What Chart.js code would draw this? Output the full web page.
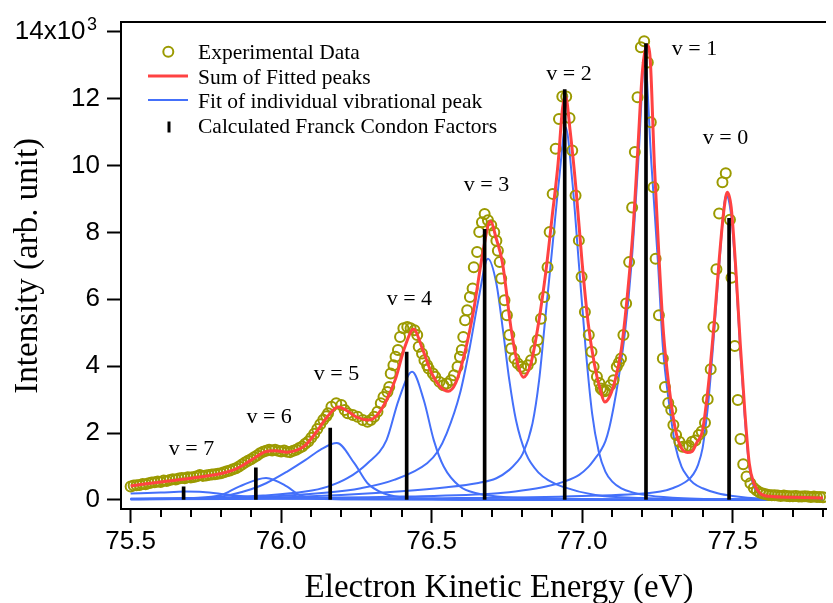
<!DOCTYPE html>
<html>
<head>
<meta charset="utf-8">
<script src="https://cdn.jsdelivr.net/npm/chart.js@4.4.0/dist/chart.umd.min.js"></script>
<style>
html,body{margin:0;padding:0;background:#fff;overflow:hidden;}
#wrap{width:833px;height:603px;position:relative;}
canvas{display:block;}
</style>
</head>
<body>
<div id="wrap"><canvas id="c" width="833" height="603"></canvas></div>
<script>
// ---------------- DATA (intensity in units of 10^3) ----------------
const expEnergy = [
75.50,75.51,75.52,75.53,75.54,75.55,75.56,75.57,75.58,75.59,
75.60,75.61,75.62,75.63,75.64,75.65,75.66,75.67,75.68,75.69,
75.70,75.71,75.72,75.73,75.74,75.75,75.76,75.77,75.78,75.79,
75.80,75.81,75.82,75.83,75.84,75.85,75.86,75.87,75.88,75.89,
75.90,75.91,75.92,75.93,75.94,75.95,75.96,75.97,75.98,75.99,
76.00,76.01,76.02,76.03,76.04,76.05,76.06,76.07,76.08,76.09,
76.10,76.11,76.12,76.13,76.14,76.15,
76.156,76.167,76.183,76.200,76.211,76.221,76.238,76.254,76.271,76.287,
76.298,76.309,76.320,76.331,76.340,76.353,76.359,76.364,76.373,76.380,
76.388,76.395,76.406,76.419,76.430,76.443,76.452,76.457,76.468,76.476,
76.485,76.490,76.504,76.512,76.526,76.539,76.550,76.564,76.574,76.586,
76.594,76.600,76.605,76.611,76.618,76.627,76.636,76.640,76.651,76.658,
76.667,76.676,76.687,76.698,76.708,76.715,76.720,76.726,76.731,76.742,
76.750,76.758,76.764,76.775,76.786,76.797,76.808,76.819,76.830,76.844,
76.852,76.863,76.874,76.885,76.892,76.902,76.912,76.923,76.934,76.947,
76.958,76.967,76.978,76.989,76.998,77.009,77.022,77.031,77.038,77.049,
77.057,77.062,77.068,77.075,77.082,77.093,77.104,77.115,77.122,77.129,
77.137,77.146,77.156,77.166,77.175,77.184,77.195,77.206,77.218,77.228,
77.237,77.244,77.255,77.268,77.275,77.286,77.296,77.303,77.312,77.323,
77.334,77.345,77.355,77.365,77.376,77.387,77.397,77.408,77.417,77.427,
77.436,77.446,77.455,77.466,77.477,77.491,77.496,77.507,77.517,77.526,
77.535,77.546,77.559,77.570,77.580,77.590,77.600,77.610,77.620,77.630,
77.640,77.650,77.660,77.670,77.680,77.690,77.700,77.710,77.720,77.730,
77.740,77.750,77.760,77.770,77.780,77.790,77.800
];
const expIntensity = [
0.40,0.43,0.44,0.45,0.48,0.47,0.50,0.52,0.53,0.55,
0.54,0.58,0.57,0.60,0.62,0.61,0.64,0.66,0.65,0.68,
0.67,0.69,0.71,0.75,0.72,0.73,0.75,0.76,0.77,0.78,
0.80,0.83,0.86,0.88,0.92,0.95,1.00,1.06,1.12,1.17,
1.22,1.28,1.33,1.40,1.44,1.47,1.50,1.48,1.50,1.47,
1.45,1.48,1.44,1.43,1.47,1.50,1.55,1.60,1.68,1.75,
1.86,1.98,2.12,2.26,2.40,2.50,
2.59,2.79,2.89,2.84,2.69,2.59,2.54,2.49,2.39,2.34,
2.39,2.49,2.64,2.89,3.08,3.23,3.38,3.78,4.03,4.28,
4.48,4.87,5.13,5.17,5.13,5.07,4.93,4.58,4.38,4.18,
4.03,3.93,3.78,3.68,3.53,3.43,3.48,3.58,3.73,3.98,
4.28,4.48,4.87,5.37,5.67,6.07,6.32,6.96,7.41,8.01,
8.30,8.55,8.36,8.21,8.00,7.75,7.45,7.11,6.62,5.97,
5.52,4.93,4.53,4.23,4.08,3.98,3.93,4.03,4.18,4.48,
4.78,5.42,6.07,6.96,8.01,9.15,10.50,11.39,12.06,12.06,
11.42,10.45,9.10,7.76,6.67,5.62,4.93,4.43,3.98,3.68,
3.50,3.33,3.28,3.25,3.28,3.43,3.58,3.98,4.10,4.23,
4.93,5.87,7.11,8.74,10.40,12.04,13.53,13.71,13.08,11.29,
9.35,7.21,5.52,4.23,3.38,2.90,2.69,2.24,1.94,1.74,
1.59,1.59,1.62,1.74,1.78,1.94,2.05,2.31,3.01,3.91,
5.17,6.90,8.56,9.50,9.77,8.38,6.64,4.60,2.99,1.82,
1.07,0.70,0.50,0.36,0.28,0.22,0.19,0.17,0.15,0.14,
0.14,0.13,0.12,0.13,0.12,0.11,0.11,0.12,0.10,0.10,
0.11,0.10,0.09,0.10,0.09,0.09,0.08
];

const sumEnergy = [75.50,75.60,75.70,75.80,75.85,75.90,75.95,75.98,76.02,76.05,76.08,76.12,76.15,76.19,76.22,76.25,76.29,76.32,76.35,76.38,76.41,76.44,76.47,76.50,76.53,76.555,76.58,76.61,76.64,76.67,76.695,76.715,76.735,76.765,76.785,76.805,76.83,76.855,76.88,76.90,76.92,76.935,76.945,76.96,76.98,77.00,77.02,77.04,77.06,77.075,77.09,77.11,77.13,77.15,77.17,77.185,77.20,77.215,77.225,77.24,77.255,77.27,77.29,77.31,77.33,77.35,77.365,77.38,77.40,77.42,77.44,77.455,77.47,77.482,77.495,77.51,77.525,77.54,77.555,77.57,77.59,77.62,77.70,77.80];
const sumIntensity = [0.42,0.54,0.65,0.79,0.93,1.19,1.45,1.47,1.43,1.48,1.63,2.07,2.45,2.78,2.66,2.48,2.39,2.55,2.98,3.62,4.55,5.10,4.50,3.79,3.37,3.25,3.50,4.40,5.70,7.40,8.33,7.80,7.10,5.05,4.10,3.67,4.09,5.28,6.87,8.45,10.06,11.73,12.05,11.04,9.25,7.07,5.28,4.09,3.30,2.93,3.07,3.60,4.50,6.10,8.20,10.50,12.80,13.60,13.30,10.00,7.30,5.00,3.28,2.09,1.55,1.42,1.45,1.70,2.09,3.49,5.46,7.16,8.60,9.20,8.75,6.96,4.69,2.69,1.10,0.51,0.21,0.11,0.08,0.06];

// individual vibrational peak fits
const fitV0Energy = [75.50,76.50,77.00,77.26,77.30,77.35,77.37,77.385,77.40,77.41,77.42,77.44,77.455,77.478,77.495,77.51,77.525,77.54,77.555,77.57,77.59,77.62,77.70,77.80];
const fitV0Intensity = [0.02,0.05,0.12,0.25,0.35,0.58,0.78,1.05,1.55,2.20,3.00,5.20,7.00,9.10,8.50,6.80,4.50,2.50,1.00,0.40,0.15,0.08,0.05,0.04];
const fitV1Energy = [75.50,76.00,76.40,76.72,76.80,76.88,76.94,76.99,77.02,77.044,77.06,77.077,77.09,77.105,77.12,77.143,77.164,77.186,77.208,77.23,77.252,77.268,77.29,77.31,77.33,77.35,77.37,77.40,77.45,77.50,77.60,77.80];
const fitV1Intensity = [0.03,0.05,0.10,0.20,0.28,0.40,0.55,0.75,0.98,1.25,1.45,1.75,2.15,2.80,3.58,5.07,7.07,10.05,13.13,10.05,7.07,4.58,2.80,1.60,1.00,0.70,0.50,0.35,0.20,0.12,0.04,0.01];
const fitV2Energy = [75.50,75.90,76.20,76.40,76.55,76.65,76.715,76.758,76.78,76.803,76.835,76.857,76.879,76.901,76.923,76.945,76.967,76.989,77.011,77.033,77.055,77.077,77.10,77.13,77.17,77.20,77.30,77.50,77.80];
const fitV2Intensity = [0.04,0.06,0.15,0.26,0.38,0.50,0.65,0.90,1.10,1.39,2.29,3.58,5.57,7.56,9.55,11.14,9.55,7.07,4.58,2.59,1.45,0.85,0.55,0.35,0.22,0.16,0.07,0.02,0.01];
const fitV3Energy = [75.50,75.90,76.155,76.265,76.375,76.485,76.52,76.55,76.594,76.627,76.655,76.687,76.715,76.737,76.758,76.78,76.813,76.857,76.89,76.934,77.044,77.20,77.50,77.80];
const fitV3Intensity = [0.04,0.08,0.22,0.35,0.60,1.10,1.45,1.99,3.18,4.58,5.97,7.21,6.47,5.07,3.58,2.39,1.39,0.80,0.58,0.40,0.15,0.06,0.02,0.01];
const fitV4Energy = [75.50,75.80,75.94,76.08,76.155,76.22,76.287,76.35,76.39,76.435,76.474,76.507,76.54,76.594,76.649,76.75,77.00,77.40,77.80];
const fitV4Intensity = [0.03,0.07,0.13,0.25,0.40,0.65,1.10,1.79,2.98,3.83,2.98,1.79,1.00,0.40,0.20,0.08,0.03,0.01,0.00];
const fitV5Energy = [75.50,75.75,75.83,75.90,75.95,76.02,76.08,76.13,76.185,76.243,76.287,76.34,76.40,76.50,76.80,77.80];
const fitV5Intensity = [0.02,0.05,0.15,0.32,0.50,0.85,1.19,1.50,1.70,1.10,0.50,0.20,0.08,0.03,0.01,0.00];
const fitV6Energy = [75.50,75.70,75.80,75.86,75.95,76.02,76.06,76.12,76.25,77.80];
const fitV6Intensity = [0.02,0.06,0.15,0.40,0.66,0.40,0.15,0.05,0.02,0.00];
const fitV7Energy = [75.50,75.60,75.68,75.74,75.82,75.90,76.00,76.20,76.60,77.80];
const fitV7Intensity = [0.19,0.22,0.25,0.24,0.16,0.09,0.05,0.02,0.01,0.00];

// calculated Franck-Condon factors (v = 0 ... 7)
const fcEnergy = [77.488,77.212,76.942,76.676,76.417,76.163,75.916,75.676];
const fcIntensity = [8.42,13.64,12.27,8.09,4.42,2.15,0.96,0.39];

// peak annotations
const vLabels = ['v = 0','v = 1','v = 2','v = 3','v = 4','v = 5','v = 6','v = 7'];
const vLabelEnergy = [77.476,77.373,76.956,76.682,76.426,76.184,75.960,75.702];
const vLabelIntensity = [10.63,13.31,12.54,9.23,5.84,3.58,2.29,1.34];

// axis ticks
const xMajorTicks = [75.5,76.0,76.5,77.0,77.5];
const xMinorTicks = [75.6,75.7,75.8,75.9,76.1,76.2,76.3,76.4,76.6,76.7,76.8,76.9,77.1,77.2,77.3,77.4,77.6,77.7,77.8];
const yTicks = [0,2,4,6,8,10,12,14];

const legendLabels = ['Experimental Data','Sum of Fitted peaks','Fit of individual vibrational peak','Calculated Franck Condon Factors'];

// ---------------- STYLE ----------------
const SERIF = '"Liberation Serif", "Times New Roman", serif';
const SANS = '"Liberation Sans", Arial, sans-serif';
const OLIVE = '#9b9a00';
const RED = '#ff4242';
const BLUE = '#4470fa';

const pts = (xs, ys) => xs.map((x, i) => ({x: x, y: ys[i]}));

const blueSets = [
  [fitV0Energy, fitV0Intensity],[fitV1Energy, fitV1Intensity],[fitV2Energy, fitV2Intensity],
  [fitV3Energy, fitV3Intensity],[fitV4Energy, fitV4Intensity],[fitV5Energy, fitV5Intensity],
  [fitV6Energy, fitV6Intensity],[fitV7Energy, fitV7Intensity]
].map((p, i) => ({
  type: 'line', label: 'fit v=' + i, data: pts(p[0], p[1]),
  borderColor: BLUE, borderWidth: 2, pointRadius: 0, fill: false,
  cubicInterpolationMode: 'monotone', order: 3
}));

const decor = {
  id: 'decor',
  afterDatasetsDraw(chart) {
    const {ctx, scales: {x, y}} = chart;
    ctx.save();
    ctx.fillStyle = '#000';
    ctx.font = '22px ' + SERIF;
    ctx.textAlign = 'center';
    ctx.textBaseline = 'alphabetic';
    vLabels.forEach((t, i) => {
      ctx.fillText(t, x.getPixelForValue(vLabelEnergy[i]), y.getPixelForValue(vLabelIntensity[i]));
    });
    ctx.restore();
  },
  afterDraw(chart) {
    const {ctx, chartArea: ca, scales: {x, y}} = chart;
    ctx.save();
    // top frame line
    ctx.strokeStyle = '#000';
    ctx.lineWidth = 2;
    ctx.beginPath();
    ctx.moveTo(ca.left - 1, 22);
    ctx.lineTo(ca.right, 22);
    ctx.stroke();
    // minor x ticks
    ctx.beginPath();
    xMinorTicks.forEach(v => {
      const px = Math.round(x.getPixelForValue(v));
      ctx.moveTo(px, ca.bottom);
      ctx.lineTo(px, ca.bottom + 8);
    });
    ctx.stroke();
    // superscript exponent on top y label
    ctx.fillStyle = '#000';
    ctx.font = '18px ' + SANS;
    ctx.textAlign = 'left';
    ctx.textBaseline = 'alphabetic';
    ctx.fillText('3', 87, y.getPixelForValue(14) - 2);
    // x axis title
    ctx.font = '33px ' + SERIF;
    ctx.textAlign = 'center';
    ctx.fillText('Electron Kinetic Energy (eV)', 499, 597);
    // legend
    const lx = 148, tx = 198;
    const rows = [59, 83.5, 108, 132.5];
    ctx.font = '21.5px ' + SERIF;
    ctx.textAlign = 'left';
    legendLabels.forEach((t, i) => ctx.fillText(t, tx, rows[i]));
    ctx.strokeStyle = OLIVE; ctx.lineWidth = 2;
    ctx.beginPath(); ctx.arc(168.3, 51.7, 5, 0, Math.PI * 2); ctx.stroke();
    ctx.strokeStyle = RED; ctx.lineWidth = 3;
    ctx.beginPath(); ctx.moveTo(lx, 76); ctx.lineTo(lx + 40, 76); ctx.stroke();
    ctx.strokeStyle = BLUE; ctx.lineWidth = 2;
    ctx.beginPath(); ctx.moveTo(lx, 100); ctx.lineTo(lx + 40, 100); ctx.stroke();
    ctx.strokeStyle = '#000'; ctx.lineWidth = 3;
    ctx.beginPath(); ctx.moveTo(169, 121.5); ctx.lineTo(169, 132.5); ctx.stroke();
    ctx.restore();
  }
};

new Chart(document.getElementById('c'), {
  type: 'scatter',
  data: {
    datasets: [
      {type: 'bar', label: legendLabels[3], data: pts(fcEnergy, fcIntensity),
       backgroundColor: '#000', borderWidth: 0, barThickness: 3, order: 0},
      {type: 'line', label: legendLabels[1], data: pts(sumEnergy, sumIntensity),
       borderColor: RED, borderWidth: 3, pointRadius: 0, fill: false,
       cubicInterpolationMode: 'monotone', order: 1},
      {type: 'scatter', label: legendLabels[0], data: pts(expEnergy, expIntensity),
       showLine: false, pointRadius: 5, pointBorderWidth: 2,
       pointBackgroundColor: 'rgba(0,0,0,0)', pointBorderColor: OLIVE, borderColor: OLIVE,
       backgroundColor: 'rgba(0,0,0,0)', order: 2}
    ].concat(blueSets)
  },
  options: {
    responsive: false,
    devicePixelRatio: 1,
    animation: false,
    events: [],
    layout: {padding: {top: 22, left: 0, right: 0, bottom: 0}},
    plugins: {legend: {display: false}, tooltip: {enabled: false}},
    scales: {
      x: {
        type: 'linear', position: 'bottom', min: 75.468, max: 77.81, offset: false,
        afterFit(s) { s.height = 94; },
        afterBuildTicks(s) { s.ticks = xMajorTicks.map(v => ({value: v})); },
        ticks: {autoSkip: false, maxRotation: 0, minRotation: 0, padding: 3, color: '#000',
                font: {family: SANS, size: 26}, callback: v => Number(v).toFixed(1)},
        grid: {display: true, offset: false, drawOnChartArea: false, drawTicks: true, tickLength: 14,
               tickWidth: 2, tickColor: '#000', color: '#000'},
        border: {display: true, color: '#000', width: 2}
      },
      y: {
        type: 'linear', position: 'left', min: -0.27, max: 14.27,
        afterFit(s) { s.width = 121; },
        afterBuildTicks(s) { s.ticks = yTicks.map(v => ({value: v})); },
        ticks: {padding: 7, color: '#000', font: {family: SANS, size: 26},
                callback: v => (v === 14 ? '14x10  ' : String(v))},
        grid: {display: true, offset: false, drawOnChartArea: false, drawTicks: true, tickLength: 14,
               tickWidth: 2, tickColor: '#000', color: '#000'},
        border: {display: true, color: '#000', width: 2},
        title: {display: true, text: 'Intensity (arb. unit)', color: '#000',
                font: {family: SERIF, size: 33}, padding: {top: 9, bottom: 0}}
      }
    }
  },
  plugins: [decor]
});
</script>
</body>
</html>
